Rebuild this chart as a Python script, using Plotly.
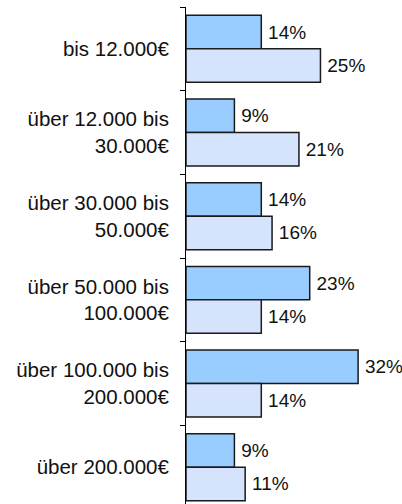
import plotly.graph_objects as go

categories = ["bis 12.000€", "über 12.000 bis<br>30.000€", "über 30.000 bis<br>50.000€",
              "über 50.000 bis<br>100.000€", "über 100.000 bis<br>200.000€", "über 200.000€"]
series_a = [14, 9, 14, 23, 32, 9]
series_b = [25, 21, 16, 14, 14, 11]
series_names = ["Serie 1", "Serie 2"]

fig = go.Figure()
fig.add_trace(go.Bar(y=categories, x=series_a, orientation="h", name=series_names[0],
                     marker=dict(color="#99CCFF", line=dict(color="#1a1a1a", width=1.5)),
                     text=[f"\u2009{v}%" for v in series_a], textposition="outside",
                     textfont=dict(size=19, color="#111"), cliponaxis=False))
fig.add_trace(go.Bar(y=categories, x=series_b, orientation="h", name=series_names[1],
                     marker=dict(color="#D6E3FC", line=dict(color="#1a1a1a", width=1.5)),
                     text=[f"\u2009{v}%" for v in series_b], textposition="outside",
                     textfont=dict(size=19, color="#111"), cliponaxis=False))

fig.update_layout(
    width=402, height=504, barmode="group", bargap=0.2, bargroupgap=0,
    margin=dict(l=186, r=10, t=7, b=0, autoexpand=False),
    paper_bgcolor="white", plot_bgcolor="white", showlegend=False,
    font=dict(family="Liberation Sans, Arial, Helvetica, sans-serif", size=19, color="#111"),
)
fig.update_xaxes(range=[0, 38.3], visible=False, showgrid=False, zeroline=False, automargin=False)
fig.update_yaxes(type="category", range=[5.44, -0.5], showgrid=False, zeroline=False,
                 showline=True, linecolor="#000", linewidth=1, automargin=False,
                 ticks="outside", tickson="boundaries", ticklen=5, tickcolor="#000",
                 ticklabelstandoff=12, tickfont=dict(size=20.5, color="#111"))

fig.write_html("out.html", config={"displayModeBar": False},
               post_script="document.body.style.margin='0';")
